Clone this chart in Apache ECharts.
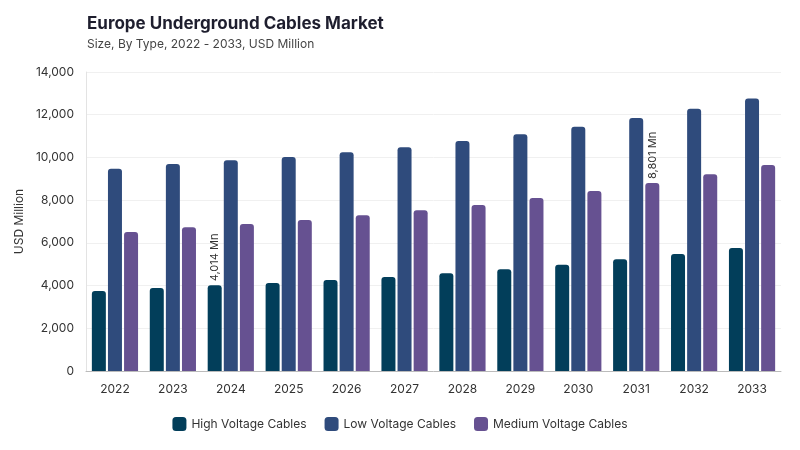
<!DOCTYPE html>
<html><head><meta charset="utf-8">
<script src="https://cdn.jsdelivr.net/npm/echarts@6/dist/echarts.min.js"></script>
<style>html,body{margin:0;padding:0;background:#fff}#c{width:800px;height:450px}</style>
</head><body><div id="c"></div>
<script>
const categories = ['2022','2023','2024','2025','2026','2027','2028','2029','2030','2031','2032','2033'];
const highVoltage = [3745, 3886, 4014, 4120, 4260, 4401, 4573, 4760, 4978, 5229, 5478, 5758];
const lowVoltage = [9471, 9691, 9863, 10019, 10238, 10472, 10768, 11080, 11438, 11845, 12281, 12765];
const mediumVoltage = [6507, 6727, 6882, 7069, 7288, 7522, 7772, 8099, 8427, 8801, 9207, 9644];
const seriesNames = ['High Voltage Cables','Low Voltage Cables','Medium Voltage Cables'];
const labelled = { 0: 2, 2: 9 }; // series index -> category index with a value label

const font = 'Inter, "DejaVu Sans", sans-serif';
const colors = ['#023e5a', '#2f4b7c', '#665191'];
const fmt = v => v.toLocaleString('en-US');

function mk(i, data) {
  return {
    name: seriesNames[i], type: 'bar', barWidth: 14, barGap: '15%',
    itemStyle: { color: colors[i], borderRadius: [3,3,0,0] },
    label: {
      show: true, position: 'top', rotate: 90, align: 'left', verticalAlign: 'middle',
      distance: 4, fontFamily: font, fontSize: 11, color: '#333',
      formatter: p => (labelled[i] === p.dataIndex ? fmt(p.value) + ' Mn' : '')
    },
    data: data
  };
}

const chart = echarts.init(document.getElementById('c'));
chart.setOption({
  animation: false,
  color: colors,
  title: {
    text: 'Europe Underground Cables Market',
    subtext: 'Size, By Type, 2022 - 2033, USD Million',
    left: 82, top: 10, itemGap: 6,
    textStyle: { fontFamily: font, fontSize: 17, fontWeight: 'bold', color: '#1e1e2e' },
    subtextStyle: { fontFamily: font, fontSize: 12, color: '#444' }
  },
  legend: {
    bottom: 14, left: 'center', itemWidth: 14, itemHeight: 14, itemGap: 18,
    icon: 'roundRect',
    textStyle: { fontFamily: font, fontSize: 12, color: '#333' },
    data: seriesNames
  },
  grid: { left: 86, right: 19, top: 72, bottom: 79 },
  xAxis: {
    type: 'category', data: categories,
    axisLine: { lineStyle: { color: '#bbb' } },
    axisTick: { show: false },
    axisLabel: { fontFamily: font, fontSize: 12, color: '#333', margin: 12 }
  },
  yAxis: {
    type: 'value', min: 0, max: 14000, interval: 2000,
    name: 'USD Million', nameLocation: 'middle', nameGap: 60,
    nameTextStyle: { fontFamily: font, fontSize: 12, color: '#333' },
    axisLine: { show: true, lineStyle: { color: '#e3e3e3', width: 1 } },
    axisLabel: { fontFamily: font, fontSize: 12, color: '#333', formatter: v => fmt(v), margin: 12 },
    splitLine: { lineStyle: { color: '#f0f0f0' } }
  },
  series: [mk(0, highVoltage), mk(1, lowVoltage), mk(2, mediumVoltage)]
});
</script></body></html>
